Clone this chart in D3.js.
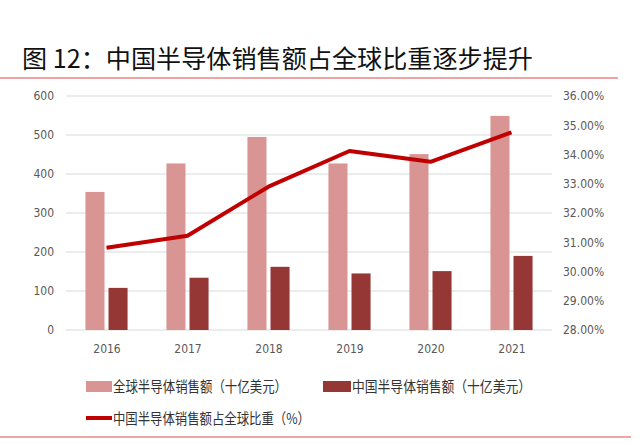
<!DOCTYPE html>
<html>
<head>
<meta charset="utf-8">
<script src="https://cdn.jsdelivr.net/npm/d3@7/dist/d3.min.js"></script>
<style>
html,body{margin:0;padding:0;background:#fff;}
svg{display:block;}
</style>
</head>
<body>
<svg id="chart" width="640" height="444"></svg>
<script>
const years = ["2016","2017","2018","2019","2020","2021"];
const globalSales = [354, 427, 495, 427, 451, 549];
const chinaSales = [108, 134, 162, 145, 151, 190];
const chinaShare = [30.81, 31.22, 32.90, 34.12, 33.75, 34.76];
const leftTicks = [0,100,200,300,400,500,600];
const rightTicks = [28,29,30,31,32,33,34,35,36];
const seriesNames = ["全球半导体销售额（十亿美元）","中国半导体销售额（十亿美元）","中国半导体销售额占全球比重（%）"];
const titleText = "图 12：中国半导体销售额占全球比重逐步提升";

const colLight = "#d99594", colDark = "#953735", colLine = "#c00000";
const axisFont = "'Liberation Sans Narrow','DejaVu Sans Condensed','Liberation Sans',sans-serif";
const cjkFont = "'Noto Sans CJK SC','Noto Sans',sans-serif";

const svg = d3.select("#chart");
const L = 66, R = 552, T = 96, B = 330;

// title
svg.append("text").attr("x",22).attr("y",68).attr("font-family",cjkFont)
  .attr("font-size",25).attr("fill","#111").text(titleText)
  .attr("textLength",511).attr("lengthAdjust","spacingAndGlyphs");
svg.append("line").attr("x1",0).attr("x2",618).attr("y1",78).attr("y2",78)
  .attr("stroke","#e04a4a").attr("stroke-width",1.2);
svg.append("line").attr("x1",0).attr("x2",631).attr("y1",437).attr("y2",437)
  .attr("stroke","#e04a4a").attr("stroke-width",1.2);

const x0 = d3.scaleBand().domain(years).range([L,R]).paddingInner(0.48).paddingOuter(0.24);
const x1 = d3.scaleBand().domain(["g","c"]).range([0,x0.bandwidth()]).paddingInner(0.174);
const xc = d3.scalePoint().domain(years).range([L,R]).padding(0.5);
const yL = d3.scaleLinear().domain([0,600]).range([B,T]);
const yR = d3.scaleLinear().domain([28,36]).range([B,T]);

// gridlines
svg.append("g").selectAll("line").data(leftTicks).join("line")
  .attr("x1",L).attr("x2",R).attr("y1",d=>yL(d)).attr("y2",d=>yL(d))
  .attr("stroke","#d9d9d9").attr("stroke-width",1);

// left axis
const axL = svg.append("g").attr("transform",`translate(${L},0)`)
  .call(d3.axisLeft(yL).tickValues(leftTicks).tickSize(0).tickPadding(12));
axL.select(".domain").remove();
axL.selectAll("text").attr("font-family",axisFont).attr("font-size",12).attr("fill","#595959");

// right axis
const axR = svg.append("g").attr("transform",`translate(${R},0)`)
  .call(d3.axisRight(yR).tickValues(rightTicks).tickSize(0).tickPadding(11)
    .tickFormat(d=>d.toFixed(2)+"%"));
axR.select(".domain").remove();
axR.selectAll("text").attr("font-family",axisFont).attr("font-size",12).attr("fill","#595959");

// bars
const g = svg.append("g");
g.selectAll("rect.g").data(years).join("rect").attr("class","g")
  .attr("x",(d)=>x0(d)+x1("g")).attr("width",x1.bandwidth())
  .attr("y",(d,i)=>yL(globalSales[i])).attr("height",(d,i)=>B-yL(globalSales[i]))
  .attr("fill",colLight);
g.selectAll("rect.c").data(years).join("rect").attr("class","c")
  .attr("x",(d)=>x0(d)+x1("c")).attr("width",x1.bandwidth())
  .attr("y",(d,i)=>yL(chinaSales[i])).attr("height",(d,i)=>B-yL(chinaSales[i]))
  .attr("fill",colDark);

// x axis
const axX = svg.append("g").attr("transform",`translate(0,${B})`)
  .call(d3.axisBottom(xc).tickSize(0).tickPadding(14));
axX.select(".domain").remove();
axX.selectAll("text").attr("font-family",axisFont).attr("font-size",12).attr("fill","#595959");

// line
const line = d3.line().x((d,i)=>xc(years[i])).y(d=>yR(d));
svg.append("path").datum(chinaShare).attr("d",line).attr("fill","none")
  .attr("stroke",colLine).attr("stroke-width",4).attr("stroke-linejoin","round");

// legend
const lg = svg.append("g");
lg.append("rect").attr("x",86).attr("y",381).attr("width",26).attr("height",11).attr("fill",colLight);
lg.append("text").attr("x",113).attr("y",391.5).attr("font-family",cjkFont).attr("font-size",15)
  .attr("fill","#333").text(seriesNames[0]).attr("textLength",174).attr("lengthAdjust","spacingAndGlyphs");
lg.append("rect").attr("x",323).attr("y",381).attr("width",28).attr("height",11).attr("fill",colDark);
lg.append("text").attr("x",352).attr("y",391.5).attr("font-family",cjkFont).attr("font-size",15)
  .attr("fill","#333").text(seriesNames[1]).attr("textLength",179).attr("lengthAdjust","spacingAndGlyphs");
lg.append("line").attr("x1",86).attr("x2",112).attr("y1",418).attr("y2",418)
  .attr("stroke",colLine).attr("stroke-width",4);
lg.append("text").attr("x",113).attr("y",423.5).attr("font-family",cjkFont).attr("font-size",15)
  .attr("fill","#333").text(seriesNames[2]).attr("textLength",197).attr("lengthAdjust","spacingAndGlyphs");
</script>
</body>
</html>
